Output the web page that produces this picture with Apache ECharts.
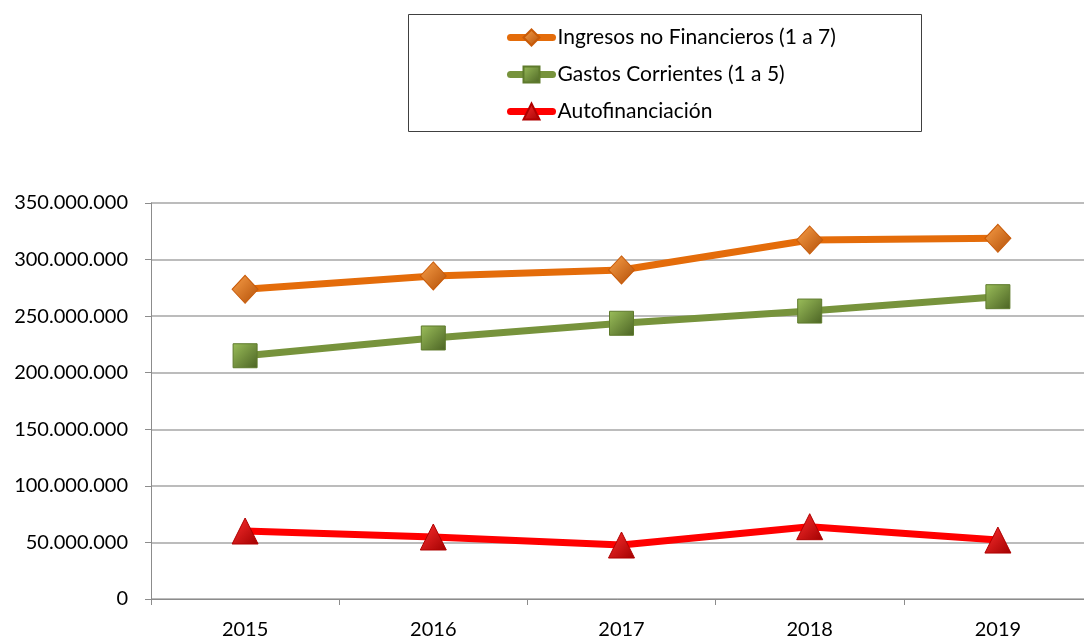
<!DOCTYPE html>
<html>
<head>
<meta charset="utf-8">
<script src="https://cdn.jsdelivr.net/npm/echarts@6/dist/echarts.min.js"></script>
<style>
  html,body{margin:0;padding:0;background:#fff;}
  #chart{width:1084px;height:641px;}
</style>
</head>
<body>
<div id="chart"></div>
<script>
// datos
const years = ['2015', '2016', '2017', '2018', '2019'];
const ingresos = [273700000, 285500000, 290800000, 317300000, 318800000];
const gastos = [215000000, 230700000, 243700000, 254500000, 267200000];
const autofin = [60100000, 54800000, 47700000, 63900000, 52100000];
const seriesNames = ['Ingresos no Financieros (1 a 7)', 'Gastos Corrientes (1 a 5)', 'Autofinanciación'];

const chart = echarts.init(document.getElementById('chart'));

// separador de miles con punto
function fmt(v) {
  return String(v).replace(/\B(?=(\d{3})+(?!\d))/g, '.');
}

function grad(c1, c2) {
  return new echarts.graphic.LinearGradient(0, 0, 1, 1, [
    { offset: 0, color: c1 },
    { offset: 1, color: c2 }
  ]);
}

const font = 'Lato, "Open Sans", sans-serif';

chart.setOption({
  backgroundColor: '#fff',
  animation: false,
  graphic: [{
    type: 'rect',
    shape: { x: 408.5, y: 14.5, width: 513, height: 117 },
    style: { fill: 'none', stroke: '#404040', lineWidth: 1 },
    silent: true
  }],
  legend: {
    orient: 'vertical',
    left: 502,
    top: 22,
    itemWidth: 42,
    itemHeight: 20,
    itemGap: 16,
    lineStyle: { width: 7, cap: 'round' },
    textStyle: { fontFamily: font, fontSize: 21, color: '#000' },
    data: seriesNames
  },
  grid: { left: 151, top: 203, width: 941, height: 396, outerBoundsMode: 'none' },
  xAxis: {
    type: 'category',
    data: years,
    boundaryGap: true,
    axisLine: { lineStyle: { color: '#8c8c8c', width: 1 } },
    axisTick: { show: true, length: 6, lineStyle: { color: '#8c8c8c' } },
    axisLabel: { fontFamily: font, fontSize: 20, color: '#000', margin: 21 }
  },
  yAxis: {
    type: 'value',
    min: 0,
    max: 350000000,
    interval: 50000000,
    axisLine: { show: true, lineStyle: { color: '#8c8c8c', width: 1 } },
    axisTick: { show: true, length: 6, lineStyle: { color: '#8c8c8c' } },
    splitLine: { lineStyle: { color: '#a6a6a6', width: 1.5 } },
    axisLabel: { fontFamily: font, fontSize: 20, color: '#000', margin: 23, formatter: fmt }
  },
  series: [
    {
      name: seriesNames[0],
      type: 'line',
      data: ingresos,
      symbol: 'diamond',
      symbolSize: [26, 28],
      lineStyle: { color: '#E46C0A', width: 7 },
      itemStyle: { color: grad('#F9A04A', '#B24E06'), borderColor: '#C85A08', borderWidth: 1 },
      z: 3
    },
    {
      name: seriesNames[1],
      type: 'line',
      data: gastos,
      symbol: 'rect',
      symbolSize: 24,
      lineStyle: { color: '#77933C', width: 7 },
      itemStyle: { color: grad('#9BBE5A', '#4B6324'), borderColor: '#5E7A2C', borderWidth: 1 },
      z: 3
    },
    {
      name: seriesNames[2],
      type: 'line',
      data: autofin,
      symbol: 'triangle',
      symbolSize: [26, 26],
      lineStyle: { color: '#FF0000', width: 7 },
      itemStyle: { color: grad('#FF3030', '#A00000'), borderColor: '#B00000', borderWidth: 1 },
      z: 3
    }
  ]
});
</script>
</body>
</html>
